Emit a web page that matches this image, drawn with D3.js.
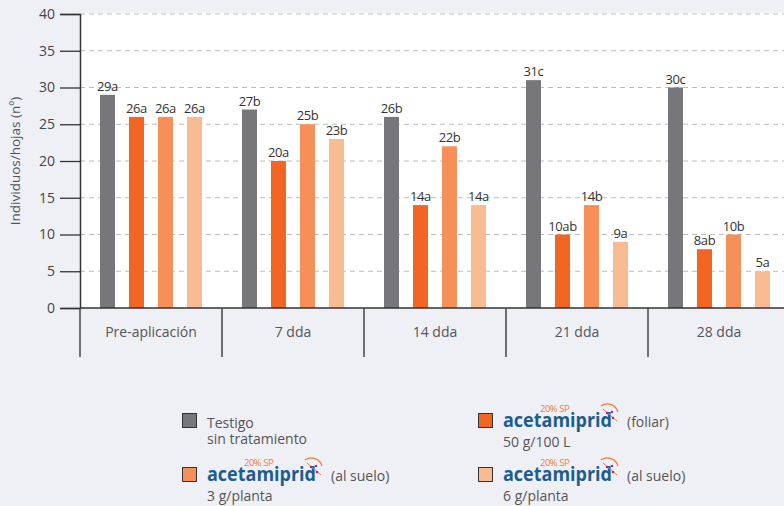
<!DOCTYPE html>
<html>
<head>
<meta charset="utf-8">
<script src="https://cdn.jsdelivr.net/npm/d3@7"></script>
<style>
  body { margin: 0; background: #eff0f6; }
  svg { display: block; font-family: "Open Sans", Lato, sans-serif; }
</style>
</head>
<body>
<div id="chart"></div>
<script>
// Data
var categories = ['Pre-aplicación', '7 dda', '14 dda', '21 dda', '28 dda'];
var series = ['testigo', 'foliar', 'suelo3', 'suelo6'];
var colors = ['#77777b', '#f26522', '#f68f58', '#f9bb92'];
var values = [
  [29, 26, 26, 26],
  [27, 20, 25, 23],
  [26, 14, 22, 14],
  [31, 10, 14, 9],
  [30, 8, 10, 5]
];
var letters = [
  ['a', 'a', 'a', 'a'],
  ['b', 'a', 'b', 'b'],
  ['b', 'a', 'b', 'a'],
  ['c', 'ab', 'b', 'a'],
  ['c', 'ab', 'b', 'a']
];
var yTicks = [0, 5, 10, 15, 20, 25, 30, 35, 40];

var width = 784, height = 506;
var plot = {left: 80, right: 790, top: 14, bottom: 308};

var svg = d3.select('#chart').append('svg')
  .attr('width', width)
  .attr('height', height);

var x0 = d3.scaleBand().domain(categories).range([plot.left, plot.right]);
var x1 = d3.scaleBand().domain(series).range([0, x0.bandwidth()])
  .paddingInner(0.483).paddingOuter(0.69);
var y = d3.scaleLinear().domain([0, 40]).range([plot.bottom, plot.top]);

// white plot background
svg.append('rect')
  .attr('x', plot.left).attr('y', y(40) - 1)
  .attr('width', width - plot.left).attr('height', plot.bottom - y(40) + 1)
  .attr('fill', '#fff');

// dashed grid
svg.append('g').selectAll('line')
  .data(yTicks.filter(function(d) { return d > 0; }))
  .enter().append('line')
  .attr('x1', plot.left).attr('x2', width)
  .attr('y1', function(d) { return y(d); })
  .attr('y2', function(d) { return y(d); })
  .attr('stroke', '#bdbdbd')
  .attr('stroke-width', 1.2)
  .attr('stroke-dasharray', '5,4');

// y axis
var yAxis = svg.append('g')
  .attr('transform', 'translate(' + plot.left + ',0)')
  .call(d3.axisLeft(y).tickValues(yTicks).tickSize(20).tickPadding(5));
yAxis.select('.domain').attr('stroke', '#333').attr('stroke-width', 1.5);
yAxis.selectAll('.tick line').attr('stroke', '#333').attr('stroke-width', 1.3);
yAxis.selectAll('.tick text')
  .attr('fill', '#444').attr('font-size', 14).attr('font-family', '"Open Sans", sans-serif');

svg.append('text')
  .attr('transform', 'translate(20,' + ((plot.top + plot.bottom) / 2) + ') rotate(-90)')
  .attr('text-anchor', 'middle')
  .attr('fill', '#555')
  .attr('font-size', 13.5)
  .text('Individuos/hojas (nº)');

// bars
var groups = svg.append('g').selectAll('g')
  .data(categories)
  .enter().append('g')
  .attr('transform', function(d) { return 'translate(' + x0(d) + ',0)'; });

groups.selectAll('rect')
  .data(function(d, i) { return values[i].map(function(v, j) { return {s: series[j], v: v, j: j}; }); })
  .enter().append('rect')
  .attr('x', function(d) { return x1(d.s); })
  .attr('width', x1.bandwidth())
  .attr('y', function(d) { return y(d.v); })
  .attr('height', function(d) { return y(0) - y(d.v); })
  .attr('fill', function(d) { return colors[d.j]; });

groups.selectAll('text.lab')
  .data(function(d, i) { return values[i].map(function(v, j) { return {s: series[j], v: v, l: letters[i][j]}; }); })
  .enter().append('text')
  .attr('class', 'lab')
  .attr('x', function(d) { return x1(d.s) + x1.bandwidth() / 2; })
  .attr('y', function(d) { return y(d.v) - 4; })
  .attr('text-anchor', 'middle')
  .attr('fill', '#333')
  .attr('font-size', 13)
  .attr('letter-spacing', -0.4)
  .text(function(d) { return d.v + d.l; });

// x axis line and category separators
svg.append('line')
  .attr('x1', plot.left).attr('x2', width)
  .attr('y1', plot.bottom).attr('y2', plot.bottom)
  .attr('stroke', '#333').attr('stroke-width', 1.5);

svg.append('g').selectAll('line')
  .data(categories)
  .enter().append('line')
  .attr('x1', function(d) { return x0(d); })
  .attr('x2', function(d) { return x0(d); })
  .attr('y1', plot.bottom).attr('y2', 357)
  .attr('stroke', '#444').attr('stroke-width', 1.5);

svg.append('g').selectAll('text')
  .data(categories)
  .enter().append('text')
  .attr('x', function(d) { return x0(d) + x0.bandwidth() / 2; })
  .attr('y', 337)
  .attr('text-anchor', 'middle')
  .attr('fill', '#555')
  .attr('font-size', 14)
  .text(function(d) { return d; });

// legend
var legend = [
  {x: 182, y: 413, c: 0, logo: false, l1: 'Testigo', l2: 'sin tratamiento'},
  {x: 478, y: 413, c: 1, logo: true, l1: '(foliar)', l2: '50 g/100 L'},
  {x: 182, y: 467, c: 2, logo: true, l1: '(al suelo)', l2: '3 g/planta'},
  {x: 478, y: 467, c: 3, logo: true, l1: '(al suelo)', l2: '6 g/planta'}
];

legend.forEach(function(d) {
  var g = svg.append('g').attr('transform', 'translate(' + d.x + ',' + d.y + ')');
  g.append('rect')
    .attr('x', 0.5).attr('y', 0.5).attr('width', 14).attr('height', 14)
    .attr('fill', colors[d.c]).attr('stroke', '#333').attr('stroke-width', 1);
  if (!d.logo) {
    g.append('text').attr('x', 25).attr('y', 15).attr('fill', '#555').attr('font-size', 14).text(d.l1);
    g.append('text').attr('x', 25).attr('y', 31).attr('fill', '#555').attr('font-size', 14).text(d.l2);
    return;
  }
  var logo = g.append('g').attr('transform', 'translate(25,14)');
  logo.append('text')
    .attr('x', 0).attr('y', 0)
    .attr('fill', '#1c5d8f')
    .attr('font-size', 20)
    .attr('font-weight', 'bold')
    .attr('textLength', 109)
    .attr('lengthAdjust', 'spacingAndGlyphs')
    .text('acetamiprid');
  var w = 109;
  logo.append('text')
    .attr('x', 37).attr('y', -15)
    .attr('fill', '#f47b3a')
    .attr('font-size', 9.5)
    .attr('letter-spacing', -0.5)
    .text('20% SP');
  // little antenna icon over the "d"
  var ic = logo.append('g').attr('transform', 'translate(' + (w - 5) + ',-16)');
  ic.append('path')
    .attr('d', 'M-6,-5 A11,11 0 0 1 11,1')
    .attr('fill', 'none').attr('stroke', '#f47b3a').attr('stroke-width', 1.4);
  ic.append('path')
    .attr('d', 'M-4,-2 L10,10')
    .attr('fill', 'none').attr('stroke', '#f47b3a').attr('stroke-width', 1);
  ic.append('circle').attr('cx', 0).attr('cy', 2).attr('r', 1.2).attr('fill', '#c2187a');
  ic.append('circle').attr('cx', 5).attr('cy', 1).attr('r', 1.2).attr('fill', '#c2187a');
  ic.append('circle').attr('cx', 6).attr('cy', 7).attr('r', 1.2).attr('fill', '#c2187a');
  logo.append('text')
    .attr('x', w + 15).attr('y', 0)
    .attr('fill', '#555').attr('font-size', 14)
    .text(d.l1);
  g.append('text').attr('x', 25).attr('y', 34).attr('fill', '#555').attr('font-size', 14).text(d.l2);
});
</script>
</body>
</html>
